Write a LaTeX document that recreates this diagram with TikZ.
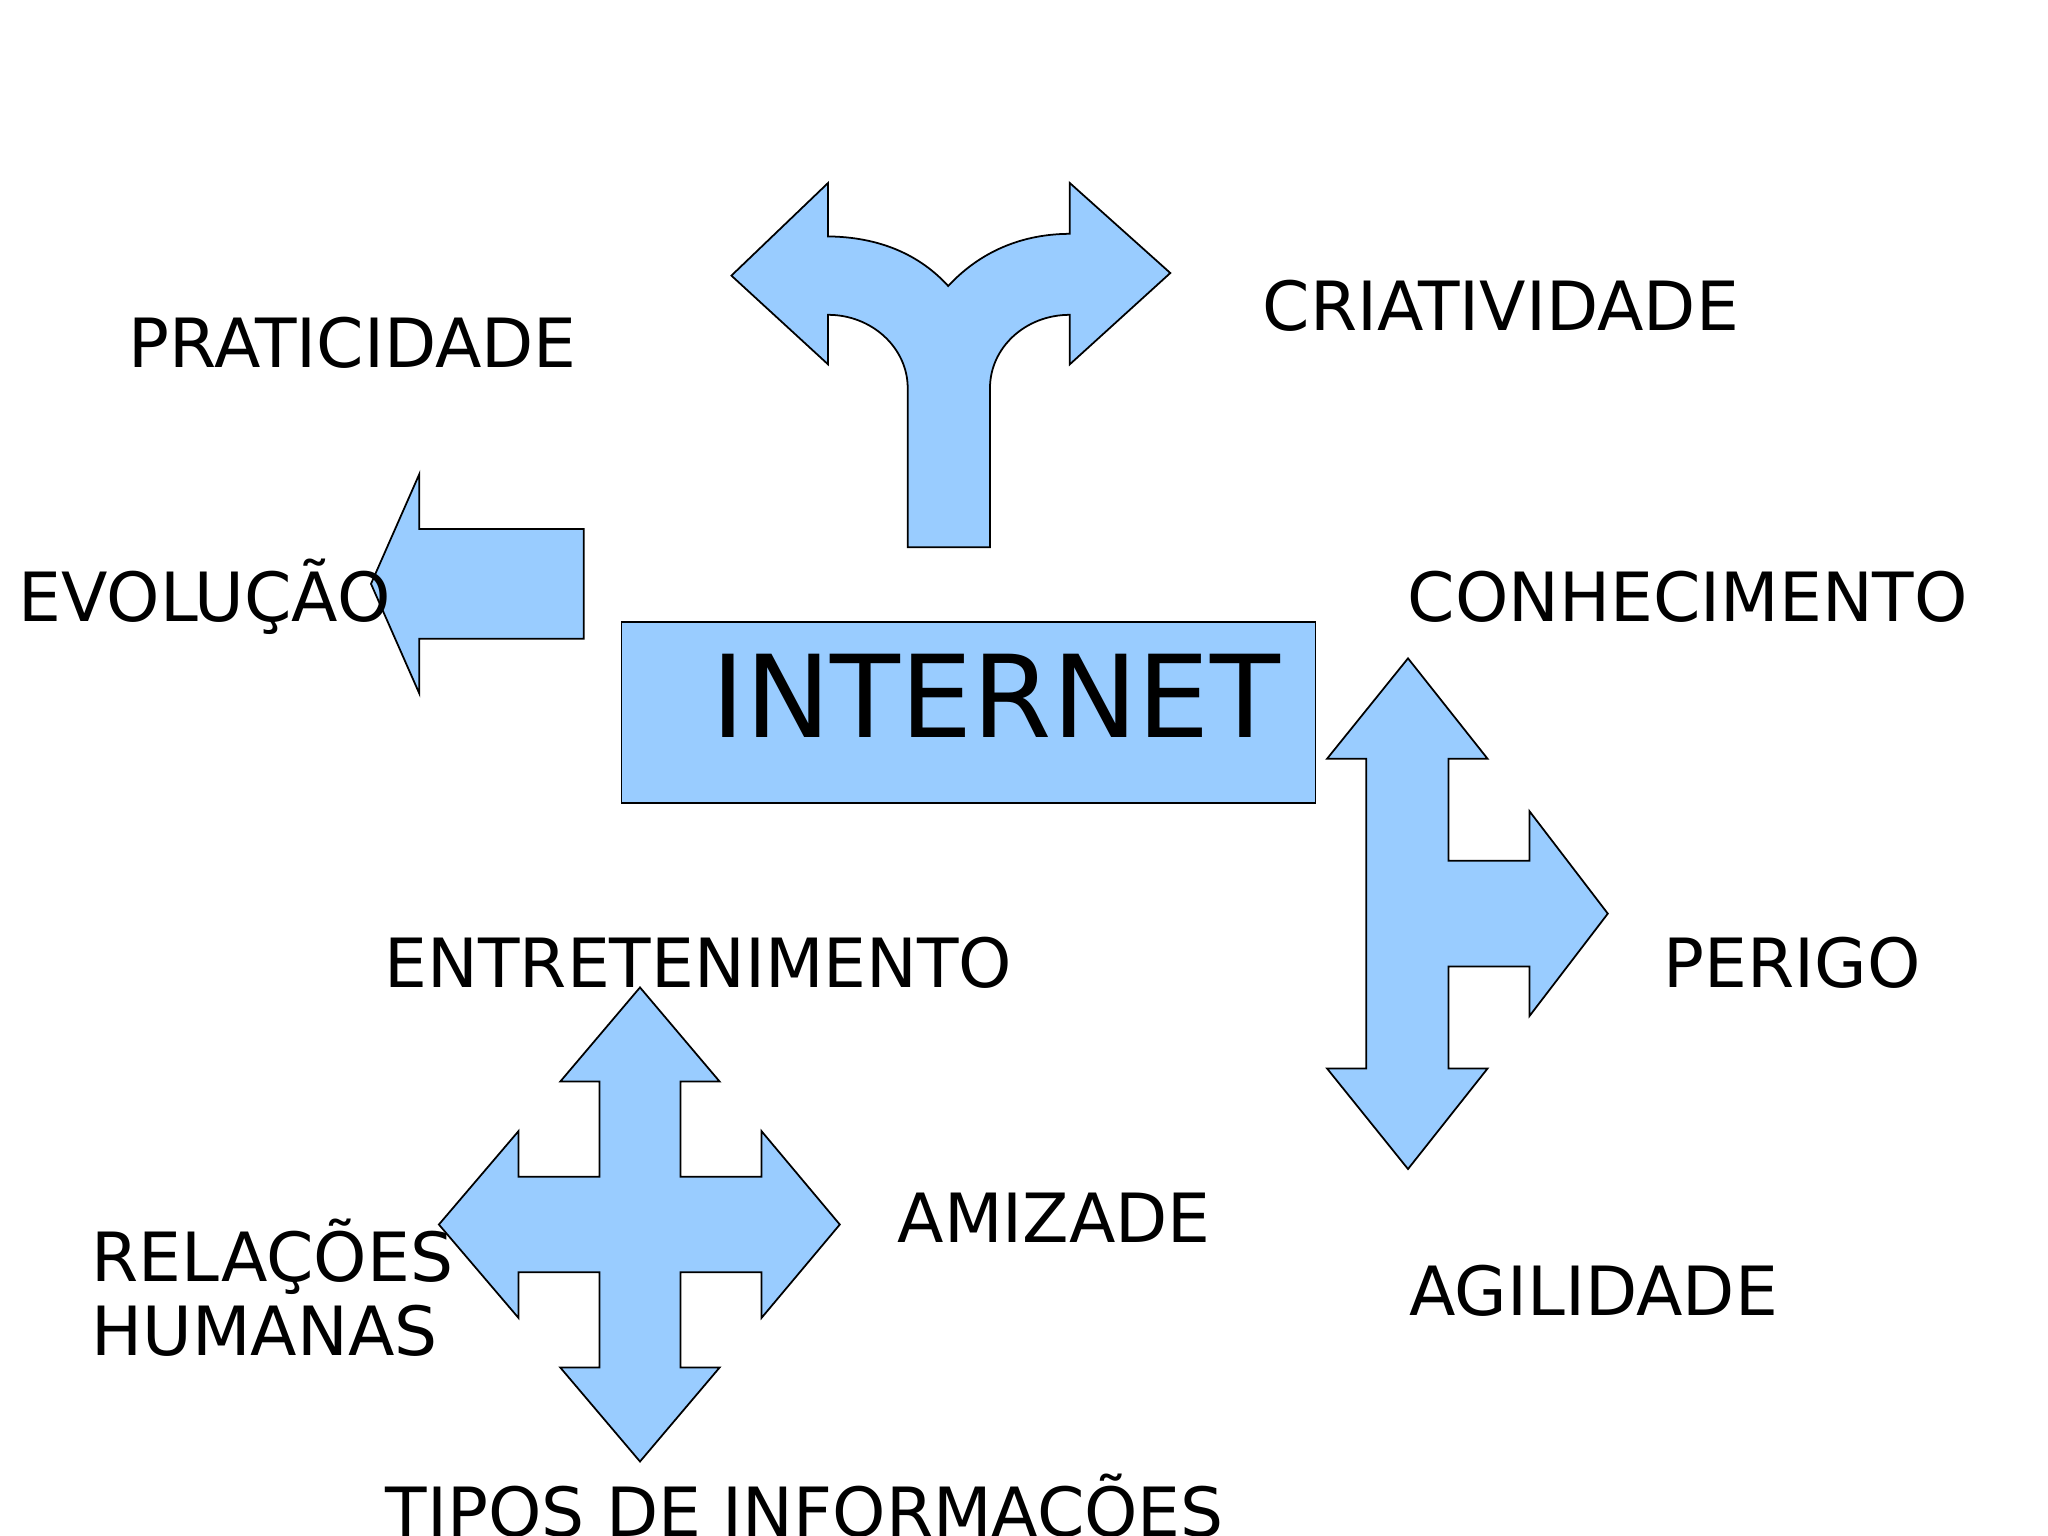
\documentclass[tikz,border=0pt]{standalone}
\usepackage{fontspec}
\setmainfont{DejaVu Sans}
\definecolor{arrowblue}{HTML}{99CCFF}
\tikzset{
  blueshape/.style={fill=arrowblue, draw=black, line width=0.5pt, line join=miter},
  lbl/.style={anchor=base west, inner sep=0pt, font=\fontsize{19.3}{21.2}\selectfont, align=left},
}
\begin{document}
\begin{tikzpicture}[x=0.01cm,y=-0.01cm]
\useasboundingbox (0,0) rectangle (2048,1535);
\fill[white] (0,0) rectangle (2048,1535);

% fork arrow
\draw[blueshape] (731.4,275.6) -- (828.1,182.9) -- (828.1,236.4)
  .. controls (880,237) and (920,255) .. (948.2,286)
  .. controls (976,256) and (1016,234) .. (1069.7,233.8)
  -- (1069.7,182.9) -- (1170.3,273) -- (1069.7,364.4) -- (1069.7,314.8)
  .. controls (1025,314.8) and (990,348) .. (990,387.9)
  -- (990,547.3) -- (907.7,547.3) -- (907.7,387.9)
  .. controls (907.7,348) and (872,314.8) .. (828.1,314.8)
  -- (828.1,364.4) -- cycle;

% left arrow
\draw[blueshape] (371,583.8) -- (419.3,474.1) -- (419.3,529) -- (583.8,529)
  -- (583.8,638.7) -- (419.3,638.7) -- (419.3,693.5) -- cycle;

% central box
\node[blueshape, rectangle, inner sep=0pt, minimum width=6.936cm, minimum height=1.816cm] (box) at (968.5,712.5) {};
\node[anchor=base west, inner sep=0pt, font=\fontsize{32.5}{38}\selectfont] (internet) at (711,737) {INTERNET};

% three-way arrow
\draw[blueshape] (1408,658.3) -- (1487.6,758.8) -- (1448.5,758.8) -- (1448.5,860.7)
  -- (1529.4,860.7) -- (1529.4,811.1) -- (1607.8,913.6) -- (1529.4,1016.1)
  -- (1529.4,966.5) -- (1448.5,966.5) -- (1448.5,1068.4) -- (1487.6,1068.4)
  -- (1408,1169) -- (1327,1068.4) -- (1366.2,1068.4) -- (1366.2,758.8)
  -- (1327,758.8) -- cycle;

% four-way arrow
\draw[blueshape] (640,987.4) -- (719.6,1081.5) -- (680.5,1081.5) -- (680.5,1176.8)
  -- (761.5,1176.8) -- (761.5,1131.1) -- (839.8,1224.5) -- (761.5,1317.9)
  -- (761.5,1272.2) -- (680.5,1272.2) -- (680.5,1367.5) -- (719.6,1367.5)
  -- (640,1461.5) -- (560.3,1367.5) -- (599.5,1367.5) -- (599.5,1272.2)
  -- (518.5,1272.2) -- (518.5,1317.9) -- (438.9,1224.5) -- (518.5,1131.1)
  -- (518.5,1176.8) -- (599.5,1176.8) -- (599.5,1081.5) -- (560.3,1081.5) -- cycle;

% labels
\node[lbl] (prat) at (128,367) {PRATICIDADE};
\node[lbl] (cria) at (1262,330) {CRIATIVIDADE};
\node[lbl] (evol) at (18,621.7) {EVOLUÇÃO};
\node[lbl] (conh) at (1407,621.7) {CONHECIMENTO};
\node[lbl] (entr) at (384,987.4) {ENTRETENIMENTO};
\node[lbl] (peri) at (1663,987.4) {PERIGO};
\node[lbl] (amiz) at (897,1242) {AMIZADE};
\node[lbl] (rela) at (91,1355.7) {RELAÇÕES\\HUMANAS};
\node[lbl] (agil) at (1409,1315.2) {AGILIDADE};
\node[lbl] (tipo) at (385,1536) {TIPOS DE INFORMAÇÕES};
\end{tikzpicture}
\end{document}
